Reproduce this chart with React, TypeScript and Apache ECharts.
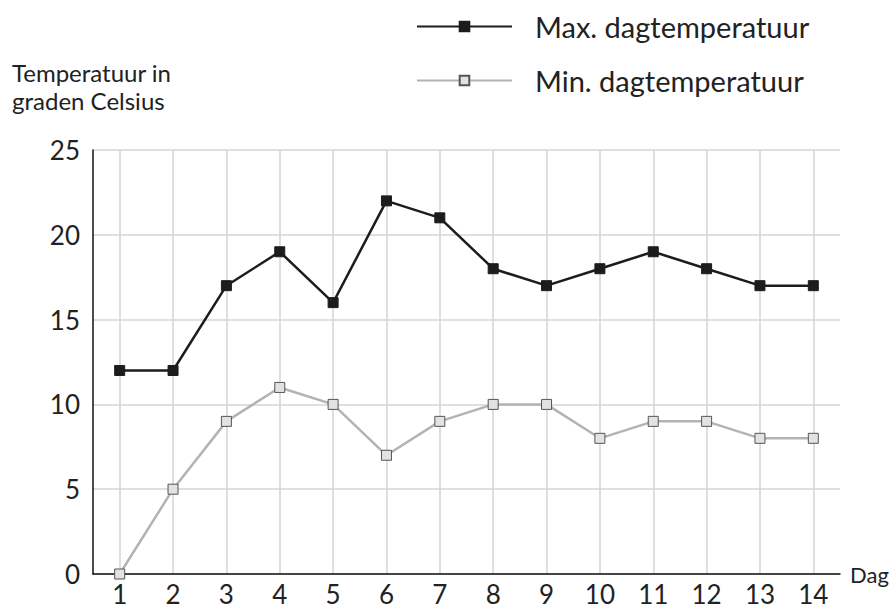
import React, { useEffect, useRef } from "react";
import * as echarts from "echarts";

const days = ["1", "2", "3", "4", "5", "6", "7", "8", "9", "10", "11", "12", "13", "14"];
const maxTemp = [12, 12, 17, 19, 16, 22, 21, 18, 17, 18, 19, 18, 17, 17];
const minTemp = [0, 5, 9, 11, 10, 7, 9, 10, 10, 8, 9, 9, 8, 8];
const yTitle = "Temperatuur in\ngraden Celsius";
const xName = "Dag";
const maxName = "Max. dagtemperatuur";
const minName = "Min. dagtemperatuur";

const FONT = "Lato";

export default function App() {
  const ref = useRef<HTMLDivElement>(null);
  useEffect(() => {
    if (!ref.current) return;
    const chart = echarts.init(ref.current, null, { renderer: "svg" });
    chart.setOption({
      animation: false,
      textStyle: { fontFamily: FONT, color: "#222" },
      title: {
        text: yTitle,
        left: 12,
        top: 58,
        padding: 0,
        textStyle: { fontFamily: FONT, fontSize: 24, fontWeight: "normal", color: "#222", lineHeight: 28 },
      },
      legend: {
        orient: "vertical",
        left: 411,
        top: 7,
        itemWidth: 95,
        itemHeight: 12,
        itemGap: 25,
        textStyle: { fontFamily: FONT, fontSize: 29, color: "#222", padding: [0, 0, 0, 18] },
        data: [maxName, minName],
      },
      grid: { left: 93, right: 53, top: 150, bottom: 36, containLabel: false },
      xAxis: {
        type: "category",
        data: days,
        boundaryGap: true,
        name: xName,
        nameLocation: "end",
        nameGap: 10,
        nameTextStyle: { fontFamily: FONT, fontSize: 22, color: "#222", verticalAlign: "middle", lineHeight: 22 },
        axisLine: { lineStyle: { color: "#111", width: 1.5 } },
        axisTick: { show: false },
        axisLabel: { fontFamily: FONT, fontSize: 26, lineHeight: 22, color: "#222", margin: 9 },
        splitLine: { show: true, alignWithLabel: true, lineStyle: { color: "#d4d4d4", width: 1.5 } },
      },
      yAxis: {
        type: "value",
        min: 0,
        max: 25,
        interval: 5,
        axisLine: { show: true, lineStyle: { color: "#111", width: 1.5 } },
        axisTick: { show: false },
        axisLabel: { fontFamily: FONT, fontSize: 26, color: "#222", margin: 13 },
        splitLine: { show: true, lineStyle: { color: "#d4d4d4", width: 1.5 } },
      },
      series: [
        {
          name: maxName,
          type: "line",
          data: maxTemp,
          symbol: "rect",
          symbolSize: 10,
          lineStyle: { color: "#1c1c1c", width: 2.5 },
          itemStyle: { color: "#1c1c1c", borderColor: "#1c1c1c", borderWidth: 1 },
          z: 3,
        },
        {
          name: minName,
          type: "line",
          data: minTemp,
          symbol: "rect",
          symbolSize: 10,
          lineStyle: { color: "#b3b3b3", width: 2.5 },
          itemStyle: { color: "#e2e2e2", borderColor: "#555", borderWidth: 1 },
          z: 2,
        },
      ],
    });
    return () => chart.dispose();
  }, []);
  return (
    <div
      ref={ref}
      style={{ position: "fixed", left: 0, top: 0, width: 893, height: 610, background: "#fff" }}
    />
  );
}
